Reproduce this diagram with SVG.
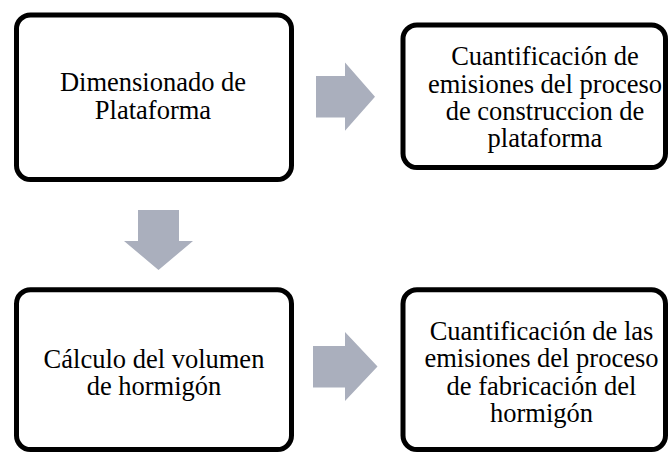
<svg xmlns="http://www.w3.org/2000/svg" width="668" height="452" viewBox="0 0 668 452">
<style>
.box{fill:#fff;stroke:#000;stroke-width:5}
.arr{fill:#AAAFBD}
text{font-family:"Liberation Serif","Times New Roman",serif;font-size:26.5px;fill:#000;text-anchor:middle}
</style>
<rect width="668" height="452" fill="#fff"/>
<g id="connectors">
<polygon class="arr" points="316,76 345,76 345,62.5 375,96.7 345,130.7 345,117.5 316,117.5"/>
<polygon class="arr" points="138,210 179,210 179,241 193,241 158.5,270 124,241 138,241"/>
<polygon class="arr" points="313,346 345,346 345,332 377.5,366.5 345,401 345,387.5 313,387.5"/>
</g>
<g id="n1">
<rect class="box" x="16.5" y="15" width="275" height="164.5" rx="14"/>
<text x="153" y="91">Dimensionado de</text>
<text x="153" y="119">Plataforma</text>
</g>
<g id="n2">
<rect class="box" x="403" y="25" width="262.5" height="142.5" rx="14"/>
<text x="545" y="65">Cuantificación de</text>
<text x="545" y="92.5">emisiones del proceso</text>
<text x="545" y="120">de construccion de</text>
<text x="545" y="147.3">plataforma</text>
</g>
<g id="n3">
<rect class="box" x="16.5" y="289.7" width="275" height="159.8" rx="14"/>
<text x="154" y="368.3">Cálculo del volumen</text>
<text x="154" y="395">de hormigón</text>
</g>
<g id="n4">
<rect class="box" x="403" y="289.7" width="262.5" height="159.8" rx="14"/>
<text x="541.5" y="340">Cuantificación de las</text>
<text x="541.5" y="367.3">emisiones del proceso</text>
<text x="541.5" y="395">de fabricación del</text>
<text x="541.5" y="421.7">hormigón</text>
</g>
</svg>
